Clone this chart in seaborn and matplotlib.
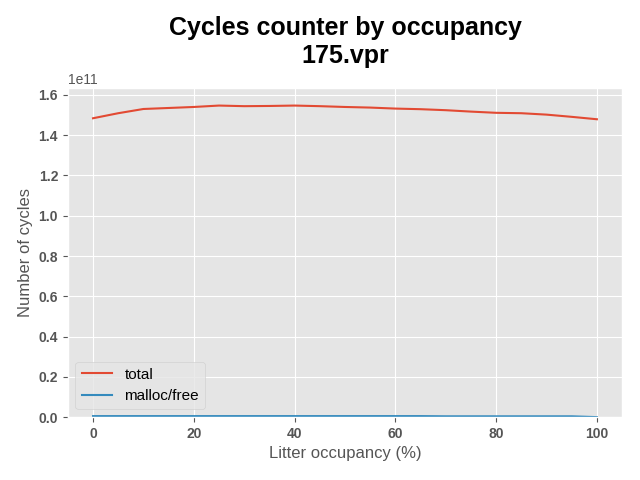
import matplotlib
matplotlib.use('Agg')
import matplotlib.pyplot as plt
import numpy as np
import pandas as pd
import seaborn as sns

plt.style.use('ggplot')
plt.rcParams['font.family'] = ['Liberation Sans', 'DejaVu Sans']

occupancy = [0, 5, 10, 15, 20, 25, 30, 35, 40, 45, 50, 55, 60, 65, 70, 75, 80, 85, 90, 95, 100]
total = [1.484, 1.509, 1.530, 1.535, 1.540, 1.547, 1.544, 1.545, 1.547, 1.544, 1.540,
         1.537, 1.532, 1.529, 1.524, 1.517, 1.511, 1.509, 1.502, 1.491, 1.479]
malloc = [0.005, 0.005, 0.005, 0.005, 0.005, 0.005, 0.005, 0.005, 0.005, 0.005, 0.005,
          0.005, 0.005, 0.005, 0.004, 0.004, 0.004, 0.004, 0.004, 0.004, 0.000]

df = pd.DataFrame({
    'occ': occupancy * 2,
    'cycles': np.array(total + malloc) * 1e11,
    'kind': ['total'] * len(occupancy) + ['malloc/free'] * len(occupancy),
})

fig, ax = plt.subplots(figsize=(6.4, 4.8), dpi=100)
sns.lineplot(data=df, x='occ', y='cycles', hue='kind', palette=['#E24A33', '#348ABD'],
             ax=ax, linewidth=1.5)

ax.set_ylim(0, 1.635e11)
ax.set_title("Cycles counter by occupancy\n175.vpr", fontsize=18, fontweight='bold', pad=18)
ax.set_xlabel("Litter occupancy (%)", fontsize=12)
ax.set_ylabel("Number of cycles", fontsize=12)
for lab in ax.get_xticklabels() + ax.get_yticklabels():
    lab.set_fontweight('bold')
ax.legend(loc='lower left', fontsize=11)

plt.subplots_adjust(left=0.106, right=0.972, bottom=0.131, top=0.817)
plt.savefig('out.png', dpi=100)
